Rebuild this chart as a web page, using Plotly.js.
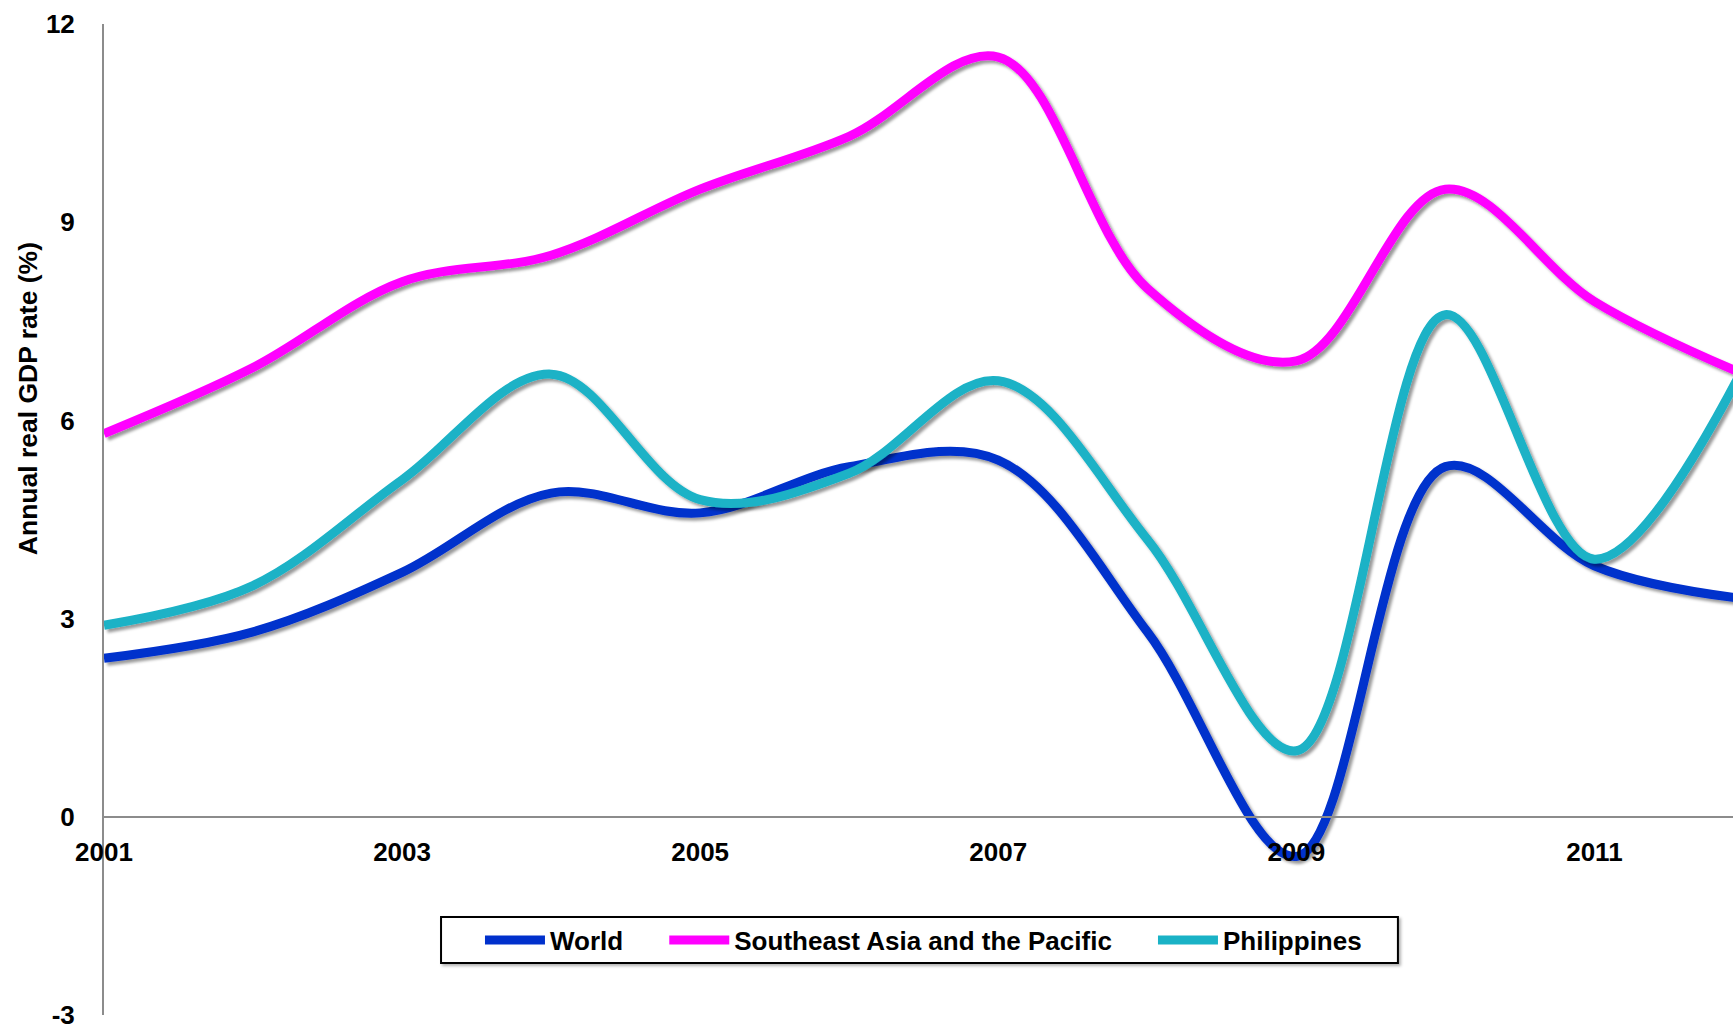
<!DOCTYPE html>
<html>
<head>
<meta charset="utf-8">
<script src="https://cdn.plot.ly/plotly-3.0.1.min.js"></script>
<style>
  html, body { margin: 0; padding: 0; background: #ffffff; }
  #chart { width: 1733px; height: 1031px; }
</style>
</head>
<body>
<div id="chart"></div>
<script>
// ---- Data ----
const years = [2001, 2002, 2003, 2004, 2005, 2006, 2007, 2008, 2009, 2010, 2011, 2012];
const worldGrowth       = [2.4, 2.8, 3.7, 4.9, 4.6, 5.3, 5.4, 2.8, -0.6, 5.3, 3.8, 3.3];
const seAsiaGrowth      = [5.8, 6.8, 8.1, 8.5, 9.5, 10.3, 11.5, 8.0, 6.9, 9.5, 7.8, 6.7];
const philippinesGrowth = [2.9, 3.5, 5.1, 6.7, 4.8, 5.2, 6.6, 4.2, 1.0, 7.6, 3.9, 6.8];

const seriesNames = ["World", "Southeast Asia and the Pacific", "Philippines"];
const seriesColors = ["#0030CC", "#FF00FF", "#1AB2C6"];

const xTickVals = [2001, 2003, 2005, 2007, 2009, 2011];
const xTickText = ["2001", "2003", "2005", "2007", "2009", "2011"];
const yTickVals = [-3, 0, 3, 6, 9, 12];
const yTickText = ["-3", "0", "3", "6", "9", "12"];
const yTitle = "Annual real GDP rate (%)";

// ---- Chart ----
const FONT = "Liberation Sans, Arial, Helvetica, sans-serif";
const seriesValues = [worldGrowth, seAsiaGrowth, philippinesGrowth];
const NBSP = "\u00A0";
const legendPad = [5, 5, 0]; // spacing after each legend entry

const traces = seriesValues.map((vals, i) => ({
  type: "scatter",
  mode: "lines",
  x: years,
  y: vals,
  name: seriesNames[i] + NBSP.repeat(legendPad[i]),
  line: { color: seriesColors[i], width: 9, shape: "spline", smoothing: 1 },
  hoverinfo: "skip"
}));

const layout = {
  width: 1733,
  height: 1031,
  margin: { l: 104, r: 0, t: 24, b: 16, pad: 0 },
  paper_bgcolor: "#ffffff",
  plot_bgcolor: "#ffffff",
  font: { family: FONT, color: "#000000", size: 26, weight: "bold" },
  showlegend: true,
  xaxis: {
    range: [2001, 2011.93],
    anchor: "free",
    position: 0.2,
    showline: true,
    linecolor: "#8c8c8c",
    linewidth: 2,
    showgrid: false,
    zeroline: false,
    ticks: "",
    tickmode: "array",
    tickvals: xTickVals,
    ticktext: xTickText,
    ticklabelstandoff: 12,
    tickfont: { family: FONT, size: 26, color: "#000000", weight: "bold" },
    fixedrange: true
  },
  yaxis: {
    range: [-3, 12],
    showline: true,
    linecolor: "#8c8c8c",
    linewidth: 2,
    showgrid: false,
    zeroline: false,
    ticks: "",
    tickmode: "array",
    tickvals: yTickVals,
    ticktext: yTickText,
    ticklabelstandoff: 22,
    ticklabeloverflow: "allow",
    tickfont: { family: FONT, size: 26, color: "#000000", weight: "bold" },
    fixedrange: true
  },
  legend: {
    orientation: "h",
    x: 0.2308,
    xanchor: "left",
    y: 0.0757,
    yanchor: "middle",
    bgcolor: "rgba(0,0,0,0)",
    borderwidth: 0,
    itemwidth: 60,
    font: { family: FONT, size: 26, color: "#000000", weight: "bold" },
    traceorder: "normal"
  },
  shapes: [{
    type: "rect",
    xref: "paper", yref: "paper",
    x0: 0.2069, x1: 0.7943,
    y0: 0.0525, y1: 0.0989,
    line: { color: "#000000", width: 2 },
    fillcolor: "#ffffff",
    layer: "above"
  }],
  annotations: [{
    text: yTitle,
    xref: "paper",
    yref: "paper",
    x: -0.0469,
    y: 0.622,
    xanchor: "center",
    yanchor: "middle",
    textangle: -90,
    showarrow: false,
    font: { family: FONT, size: 26.5, color: "#000000", weight: "bold" }
  }]
};

Plotly.newPlot("chart", traces, layout, { displayModeBar: false, staticPlot: true }).then(gd => {
  const svg = gd.querySelector("svg.main-svg");
  const ns = "http://www.w3.org/2000/svg";
  let defs = svg.querySelector("defs");
  if (!defs) { defs = document.createElementNS(ns, "defs"); svg.insertBefore(defs, svg.firstChild); }
  function addShadow(id, dx, dy, sd, op) {
    const filter = document.createElementNS(ns, "filter");
    filter.setAttribute("id", id);
    filter.setAttribute("x", "-10%"); filter.setAttribute("y", "-10%");
    filter.setAttribute("width", "130%"); filter.setAttribute("height", "140%");
    const ds = document.createElementNS(ns, "feDropShadow");
    ds.setAttribute("dx", dx); ds.setAttribute("dy", dy);
    ds.setAttribute("stdDeviation", sd);
    ds.setAttribute("flood-color", "#000000");
    ds.setAttribute("flood-opacity", op);
    filter.appendChild(ds);
    defs.appendChild(filter);
  }
  addShadow("lineShadow", 3, 3, 1.6, 0.4);
  addShadow("boxShadow", 2, 2, 1.5, 0.3);
  gd.querySelectorAll(".scatterlayer .js-line").forEach(p => p.setAttribute("filter", "url(#lineShadow)"));
  gd.querySelectorAll(".shapelayer path").forEach(p => p.setAttribute("filter", "url(#boxShadow)"));
});
</script>
</body>
</html>
